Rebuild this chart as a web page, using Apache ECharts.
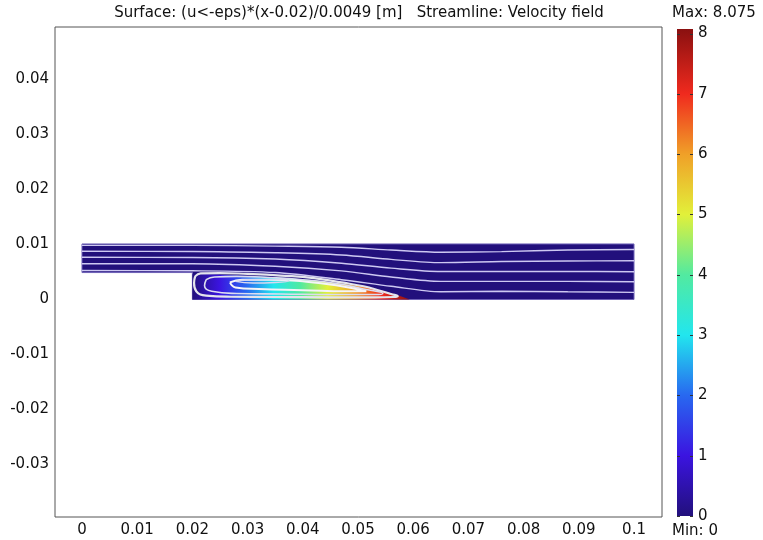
<!DOCTYPE html>
<html>
<head>
<meta charset="utf-8">
<script src="https://cdn.jsdelivr.net/npm/echarts@6/dist/echarts.min.js"></script>
<style>
  html, body { margin: 0; padding: 0; background: #fff; }
  #chart { width: 763px; height: 540px; }
</style>
</head>
<body>
<div id="chart"></div>
<script>
// axis tick labels
const xTicks = [0, 0.01, 0.02, 0.03, 0.04, 0.05, 0.06, 0.07, 0.08, 0.09, 0.1];
const yTicks = [-0.03, -0.02, -0.01, 0, 0.01, 0.02, 0.03, 0.04];
const cbTicks = [0, 1, 2, 3, 4, 5, 6, 7, 8];

// colour scale (surface value -> colour)
const cmapMax = 8.075;
const cmapValues = [0, 1, 2, 3, 4, 5, 6, 7, 8.075];
const cmapColors = ['#22107c', '#3b14e0', '#2868f0', '#22e6ee', '#52eaa0', '#e2f03a', '#f0a028', '#f02a1e', '#8a1010'];

// surface expression: (x - 0.02) / 0.0049 inside the recirculation zone
const surfX0 = 0.02;
const surfScale = 0.0049;

// geometry outline (backward facing step)
const domainX = [0, 0.02, 0.02, 0.1, 0.1, 0];
const domainY = [0.0049, 0.0049, 0, 0, 0.0101, 0.0101];

// recirculation zone (u < 0), top edge
const bubbleX = [0.0200, 0.0210, 0.0230, 0.0270, 0.0320, 0.0370, 0.0420, 0.0470, 0.0510, 0.0545, 0.0565, 0.0580, 0.0594];
const bubbleTop = [0.0046, 0.0047, 0.0046, 0.0044, 0.0042, 0.0039, 0.0035, 0.0029, 0.0023, 0.0016, 0.0010, 0.0005, 0.0000];

// main streamlines
const streamX = [0, 0.02, 0.035, 0.047, 0.056, 0.065, 0.076, 0.088, 0.1];
const stream1 = [0.00985, 0.00985, 0.0097, 0.0095, 0.0090, 0.0086, 0.0087, 0.0090, 0.0091];
const stream2 = [0.00876, 0.00874, 0.0085, 0.0081, 0.0073, 0.0067, 0.0069, 0.0070, 0.00705];
const stream3 = [0.00767, 0.00765, 0.00736, 0.0066, 0.0057, 0.0051, 0.0051, 0.0051, 0.00505];
const stream4 = [0.00651, 0.0065, 0.00604, 0.0052, 0.0041, 0.0033, 0.0033, 0.0033, 0.00324];
const stream5 = [0.00527, 0.00522, 0.0049, 0.0036, 0.0024, 0.0014, 0.0015, 0.0014, 0.0013];

// closed streamlines in the recirculation zone
const loopOuter = [[0.0205, 0.0042], [0.0215, 0.00475], [0.025, 0.0048], [0.030, 0.00465], [0.036, 0.00435], [0.042, 0.0039], [0.047, 0.0031], [0.051, 0.0024], [0.054, 0.0016], [0.056, 0.0010], [0.0572, 0.0006], [0.0565, 0.00045], [0.053, 0.0004], [0.045, 0.0004], [0.035, 0.00045], [0.027, 0.0005], [0.0225, 0.0007], [0.0207, 0.0015], [0.0203, 0.0030], [0.0205, 0.0042]];
const loopSecond = [[0.0225, 0.0036], [0.024, 0.0041], [0.028, 0.0042], [0.034, 0.0040], [0.040, 0.0036], [0.046, 0.0029], [0.051, 0.0019], [0.0545, 0.0011], [0.053, 0.0009], [0.046, 0.0009], [0.036, 0.0010], [0.028, 0.0011], [0.0235, 0.0015], [0.0222, 0.0025], [0.0225, 0.0036]];
const loopThird = [[0.0268, 0.0031], [0.029, 0.0036], [0.034, 0.0036], [0.040, 0.0033], [0.046, 0.0026], [0.0515, 0.0015], [0.048, 0.0015], [0.040, 0.0017], [0.032, 0.0019], [0.0278, 0.0022], [0.0268, 0.0031]];
const loopInner = [[0.0278, 0.0033], [0.030, 0.0036], [0.034, 0.00365], [0.0375, 0.0034], [0.035, 0.0031], [0.031, 0.0030], [0.0278, 0.0033]];

const chart = echarts.init(document.getElementById('chart'));
const stops = cmapValues.map((v, i) => ({ offset: v / cmapMax, color: cmapColors[i] }));
const FONT = 'DejaVu Sans';

const fmt = v => String(+v.toFixed(2));

function streamSeries(ys) {
  return {
    type: 'line',
    xAxisIndex: 0, yAxisIndex: 0,
    data: streamX.map((x, i) => [x, ys[i]]),
    symbol: 'none', smooth: 0.3, silent: true, z: 5,
    lineStyle: { color: '#cdc8f2', width: 1.4 }
  };
}
function loopSeries(pts, color, width) {
  return {
    type: 'line',
    xAxisIndex: 0, yAxisIndex: 0,
    data: pts,
    symbol: 'none', smooth: 0.5, silent: true, z: 6,
    lineStyle: { color: color, width: width }
  };
}

chart.setOption({
  animation: false,
  textStyle: { fontFamily: FONT },
  graphic: [
    { type: 'text', x: 359, y: 13, style: { text: 'Surface: (u<-eps)*(x-0.02)/0.0049 [m]   Streamline: Velocity field', font: '15px "DejaVu Sans"', fill: '#111', textAlign: 'center', textVerticalAlign: 'middle' } },
    { type: 'text', x: 672, y: 13, style: { text: 'Max: 8.075', font: '15px "DejaVu Sans"', fill: '#111', textAlign: 'left', textVerticalAlign: 'middle' } },
    { type: 'text', x: 672, y: 531, style: { text: 'Min: 0', font: '15px "DejaVu Sans"', fill: '#111', textAlign: 'left', textVerticalAlign: 'middle' } }
  ],
  grid: [
    { left: 55, top: 27, width: 607, height: 490, show: true, borderColor: '#555', borderWidth: 1, backgroundColor: '#fff' },
    { left: 677, top: 29, width: 16, height: 487 }
  ],
  xAxis: [
    {
      type: 'value', gridIndex: 0, min: -0.00489, max: 0.10507,
      axisLine: { show: false }, axisTick: { show: false }, splitLine: { show: false },
      axisLabel: { customValues: xTicks, formatter: fmt, fontSize: 15, color: '#111', margin: 6 }
    },
    { type: 'value', gridIndex: 1, min: 0, max: 1, show: false }
  ],
  yAxis: [
    {
      type: 'value', gridIndex: 0, min: -0.03955, max: 0.04955,
      axisLine: { show: false }, axisTick: { show: false }, splitLine: { show: false },
      axisLabel: { customValues: yTicks, formatter: fmt, fontSize: 15, color: '#111', margin: 6 }
    },
    {
      type: 'value', gridIndex: 1, min: 0, max: cmapMax, position: 'right',
      axisLine: { show: false }, splitLine: { show: false }, axisTick: { show: false },
      axisLabel: { customValues: cbTicks, fontSize: 15, color: '#111', margin: 5 }
    }
  ],
  series: [
    {
      // flow domain
      type: 'custom', xAxisIndex: 0, yAxisIndex: 0, z: 1, silent: true,
      data: domainX.map((x, i) => [x, domainY[i]]),
      renderItem: function (params, api) {
        if (params.dataIndex !== 0) return;
        const pts = domainX.map((x, i) => api.coord([x, domainY[i]]));
        return { type: 'polygon', shape: { points: pts }, style: { fill: cmapColors[0], stroke: '#6f62b8', lineWidth: 1 } };
      }
    },
    {
      // recirculation zone coloured by the surface expression
      type: 'custom', xAxisIndex: 0, yAxisIndex: 0, z: 2, silent: true,
      data: bubbleX.map((x, i) => [x, bubbleTop[i]]),
      renderItem: function (params, api) {
        if (params.dataIndex !== 0) return;
        const n = bubbleX.length;
        const pts = [api.coord([bubbleX[0], 0])]
          .concat(bubbleX.map((x, i) => api.coord([x, bubbleTop[i]])))
          .concat([api.coord([bubbleX[n - 1], 0])]);
        const x0 = api.coord([surfX0, 0])[0];
        const x1 = api.coord([surfX0 + cmapMax * surfScale, 0])[0];
        return {
          type: 'polygon', shape: { points: pts },
          style: { fill: new echarts.graphic.LinearGradient(x0, 0, x1, 0, stops, true) }
        };
      }
    },
    streamSeries(stream1),
    streamSeries(stream2),
    streamSeries(stream3),
    streamSeries(stream4),
    streamSeries(stream5),
    loopSeries(loopOuter, '#e4e4ec', 2.2),
    loopSeries(loopSecond, '#dcdcf0', 1.6),
    loopSeries(loopThird, '#f4f4f8', 2),
    loopSeries(loopInner, '#d8d8f0', 1.4),
    {
      // colour bar with small tick marks on both edges
      type: 'custom', xAxisIndex: 1, yAxisIndex: 1, z: 1, silent: true,
      data: [[0, cmapMax]],
      renderItem: function (params, api) {
        const p0 = api.coord([0, 0]);
        const p1 = api.coord([1, cmapMax]);
        const children = [{
          type: 'rect',
          shape: { x: p0[0], y: p1[1], width: p1[0] - p0[0], height: p0[1] - p1[1] },
          style: { fill: new echarts.graphic.LinearGradient(0, 1, 0, 0, stops) }
        }];
        cbTicks.forEach(t => {
          const y = Math.round(api.coord([0, t])[1]) + 0.5;
          children.push({ type: 'line', shape: { x1: p0[0], y1: y, x2: p0[0] + 3, y2: y }, style: { stroke: '#333', lineWidth: 1 } });
          children.push({ type: 'line', shape: { x1: p1[0] - 3, y1: y, x2: p1[0], y2: y }, style: { stroke: '#333', lineWidth: 1 } });
        });
        return { type: 'group', children: children };
      }
    }
  ]
});
</script>
</body>
</html>
